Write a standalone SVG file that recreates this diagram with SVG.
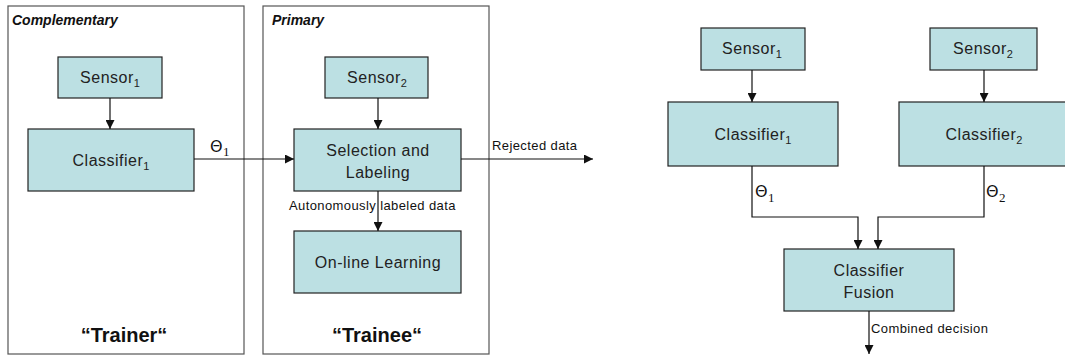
<svg xmlns="http://www.w3.org/2000/svg" width="1065" height="356" viewBox="0 0 1065 356">
<style>
.frame{fill:#fff;stroke:#555;stroke-width:1.2}
.box{fill:#bce0e3;stroke:#222;stroke-width:1.2}
.lbl{font-family:"Liberation Sans",Arial,sans-serif;font-size:16px;letter-spacing:0.5px;fill:#222;text-anchor:middle}
.sub{font-size:11px;letter-spacing:0}
.small{font-family:"Liberation Sans",Arial,sans-serif;font-size:13px;letter-spacing:0.4px;fill:#111}
.title{font-family:"Liberation Sans",Arial,sans-serif;font-size:14px;font-weight:bold;font-style:italic;fill:#111}
.big{font-family:"Liberation Sans",Arial,sans-serif;font-size:20px;font-weight:bold;fill:#111;text-anchor:middle}
.theta{font-family:"DejaVu Sans",sans-serif;font-size:16px;fill:#111}
.tsub{font-family:"Liberation Serif",serif;font-size:13px;fill:#111}
.conn{fill:none;stroke:#111;stroke-width:1.2}
</style>
<defs>
<marker id="arr" viewBox="0 0 10 10" refX="10" refY="5" markerWidth="9" markerHeight="9" markerUnits="userSpaceOnUse" orient="auto">
<path d="M0,0 L10,5 L0,10 z" fill="#111"/>
</marker>
</defs>

<g id="frame-complementary">
<rect class="frame" x="8" y="6" width="236" height="348"/>
<text class="title" x="12" y="25">Complementary</text>
<text class="big" x="124" y="342">“Trainer“</text>
</g>
<g id="frame-primary">
<rect class="frame" x="263" y="6" width="226" height="348"/>
<text class="title" x="272" y="25">Primary</text>
<text class="big" x="377" y="342">“Trainee“</text>
</g>

<g id="sensor1-left">
<rect class="box" x="58" y="57" width="104" height="41"/>
<text class="lbl" x="110" y="83">Sensor<tspan class="sub" dy="4">1</tspan></text>
</g>
<g id="classifier1-left">
<rect class="box" x="28" y="129" width="166" height="62"/>
<text class="lbl" x="111" y="166">Classifier<tspan class="sub" dy="4">1</tspan></text>
</g>
<g id="sensor2-left">
<rect class="box" x="325" y="57" width="103" height="41"/>
<text class="lbl" x="377" y="83">Sensor<tspan class="sub" dy="4">2</tspan></text>
</g>
<g id="selection">
<rect class="box" x="294" y="129" width="167" height="62"/>
<text class="lbl" x="378" y="156">Selection and</text>
<text class="lbl" x="378" y="178">Labeling</text>
</g>
<g id="online">
<rect class="box" x="294" y="231" width="167" height="62"/>
<text class="lbl" x="378" y="268">On-line Learning</text>
</g>

<g id="sensor1-right">
<rect class="box" x="701" y="28" width="104" height="42"/>
<text class="lbl" x="752" y="54">Sensor<tspan class="sub" dy="4">1</tspan></text>
</g>
<g id="classifier1-right">
<rect class="box" x="668" y="102" width="170" height="64"/>
<text class="lbl" x="753" y="140">Classifier<tspan class="sub" dy="4">1</tspan></text>
</g>
<g id="sensor2-right">
<rect class="box" x="930" y="28" width="107" height="42"/>
<text class="lbl" x="983" y="54">Sensor<tspan class="sub" dy="4">2</tspan></text>
</g>
<g id="classifier2-right">
<rect class="box" x="899" y="102" width="172" height="64"/>
<text class="lbl" x="984" y="140">Classifier<tspan class="sub" dy="4">2</tspan></text>
</g>
<g id="fusion">
<rect class="box" x="784" y="249" width="170" height="62"/>
<text class="lbl" x="869" y="276">Classifier</text>
<text class="lbl" x="869" y="298">Fusion</text>
</g>

<g id="connectors">
<line class="conn" x1="110" y1="98" x2="110" y2="129" marker-end="url(#arr)"/>
<line class="conn" x1="194" y1="159" x2="294" y2="159" marker-end="url(#arr)"/>
<line class="conn" x1="378" y1="98" x2="378" y2="129" marker-end="url(#arr)"/>
<line class="conn" x1="461" y1="159" x2="593" y2="159" marker-end="url(#arr)"/>
<line class="conn" x1="378" y1="191" x2="378" y2="231" marker-end="url(#arr)"/>
<line class="conn" x1="752" y1="70" x2="752" y2="102" marker-end="url(#arr)"/>
<line class="conn" x1="984" y1="70" x2="984" y2="102" marker-end="url(#arr)"/>
<polyline class="conn" points="752,166 752,217 858,217 858,249" marker-end="url(#arr)"/>
<polyline class="conn" points="984,166 984,217 878,217 878,249" marker-end="url(#arr)"/>
<line class="conn" x1="869" y1="311" x2="869" y2="354" marker-end="url(#arr)"/>
<text class="theta" x="210" y="152">Θ</text><text class="tsub" x="223" y="156">1</text>
<text class="small" x="492" y="150">Rejected data</text>
<text class="small" x="289" y="210">Autonomously labeled data</text>
<text class="theta" x="755" y="197">Θ</text><text class="tsub" x="768" y="202">1</text>
<text class="theta" x="986" y="197">Θ</text><text class="tsub" x="999" y="202">2</text>
<text class="small" x="871" y="333">Combined decision</text>
</g>
</svg>
